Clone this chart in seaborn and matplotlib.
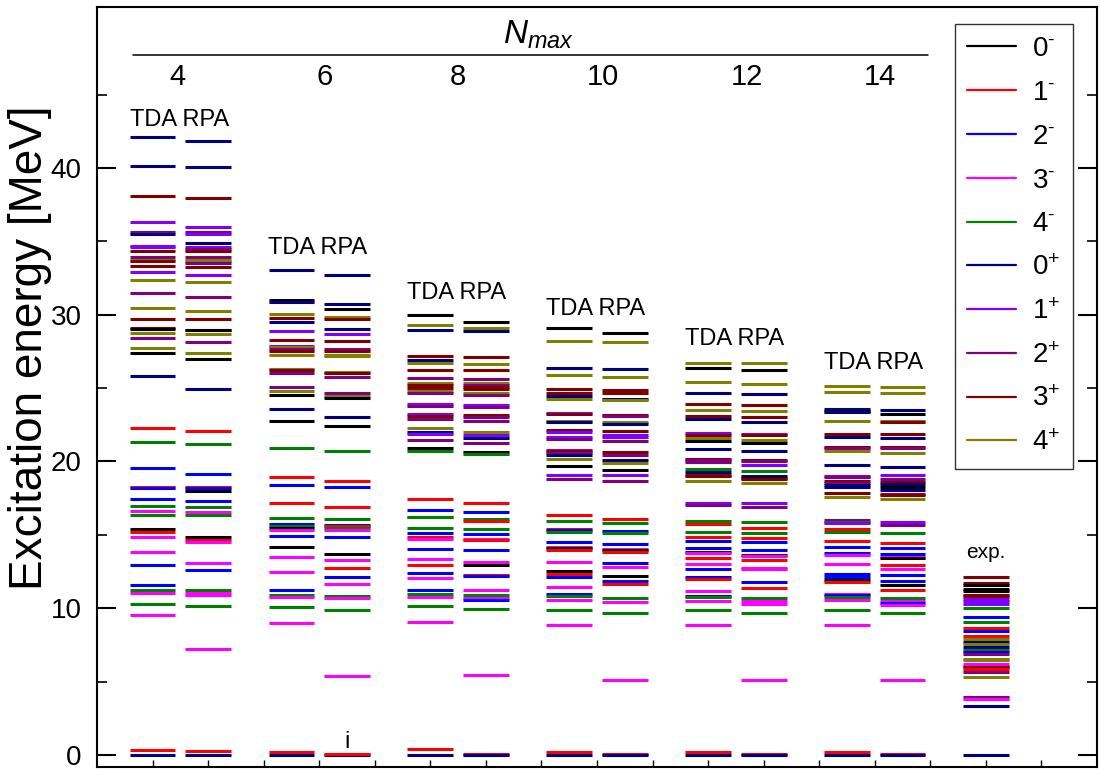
import numpy as np
import pandas as pd
import matplotlib
matplotlib.use("Agg")
import matplotlib.pyplot as plt
from matplotlib.lines import Line2D
import seaborn as sns

# ---------------------------------------------------------------- data
states = ["0-", "1-", "2-", "3-", "4-", "0+", "1+", "2+", "3+", "4+"]
state_colors = ["#000000", "#FF0000", "#0000FF", "#FF00FF", "#008000",
                "#000080", "#8000FF", "#800080", "#800000", "#808000"]

nmax_values = [4, 6, 8, 10, 12, 14]

tda4_E = [42.1, 40.15, 38.1, 36.33, 35.61, 35.47, 34.71, 34.6, 34.34, 33.93, 33.75, 33.65, 33.33,
          32.92, 32.34, 31.48, 30.46, 29.74, 29.1, 29.0, 28.73, 28.44, 27.72, 27.4, 25.84, 22.31,
          21.36, 19.56, 18.26, 18.18, 17.45, 16.99, 16.62, 16.36, 15.43, 15.2, 14.85, 13.81, 12.95,
          11.61, 11.21, 11.04, 10.31, 9.53, 0.37, 0.0]
tda4_J = ["0+", "0+", "3+", "1+", "2+", "0+", "1+", "1+", "3+", "2+", "4+", "3+", "3+",
          "1+", "4+", "2+", "4+", "3+", "3+", "0-", "4+", "2+", "4+", "0-", "0+", "1-",
          "4-", "2-", "1-", "2-", "2-", "4-", "3-", "4-", "0-", "1-", "3-", "3-", "2-",
          "2-", "4-", "3-", "4-", "3-", "1-", "0+"]

rpa4_E = [41.83, 40.09, 37.95, 35.99, 35.67, 35.5, 34.89, 34.63, 34.45, 34.31, 33.9, 33.76, 33.64,
          33.5, 33.27, 32.69, 32.23, 31.19, 30.26, 29.68, 28.99, 28.93, 28.7, 28.15, 27.37, 26.97,
          24.97, 22.05, 21.21, 19.16, 18.26, 18.18, 18.0, 17.31, 16.91, 16.56, 16.33, 14.85, 14.65,
          14.51, 13.06, 12.63, 11.21, 11.04, 10.92, 10.17, 7.19, 0.28, 0.0]
rpa4_J = ["0+", "0+", "3+", "1+", "2+", "1+", "0+", "1+", "2+", "3+", "2+", "4+", "4+",
          "2+", "3+", "1+", "4+", "2+", "4+", "3+", "3+", "0-", "4+", "2+", "4+", "0-",
          "0+", "1-", "4-", "2-", "1-", "2-", "0-", "2-", "4-", "3-", "4-", "0-", "1-",
          "3-", "3-", "2-", "4-", "3-", "3-", "4-", "3-", "1-", "0+"]

tda6_E = [33.02, 30.98, 30.84, 30.04, 29.78, 29.52, 28.9, 28.31, 27.85, 27.79, 27.67, 27.53, 27.24,
          26.3, 26.2, 26.01, 25.06, 24.83, 24.5, 23.57, 22.77, 20.9, 18.91, 18.39, 17.2, 16.18,
          15.71, 15.59, 15.45, 15.31, 14.95, 14.17, 13.46, 12.44, 11.26, 10.93, 10.79, 10.07, 8.96,
          0.2, 0.0]
tda6_J = ["0+", "0-", "0+", "4+", "3+", "0+", "1+", "3+", "1+", "4+", "2+", "3+", "4+",
          "4+", "3+", "2+", "2+", "4+", "0-", "0+", "0-", "4-", "1-", "2-", "1-", "4-",
          "2-", "4-", "0-", "3-", "2-", "0-", "3-", "3-", "2-", "4-", "3-", "4-", "3-",
          "1-", "0+"]

rpa6_E = [32.71, 30.7, 30.42, 29.87, 29.73, 29.04, 28.69, 28.24, 27.67, 27.5, 27.25, 27.17, 26.13,
          26.01, 25.75, 24.66, 24.47, 24.31, 23.0, 22.39, 20.68, 18.69, 18.24, 16.87, 16.11, 15.66,
          15.57, 15.47, 15.31, 14.83, 13.7, 13.27, 12.73, 12.13, 11.66, 10.86, 10.67, 9.91, 5.36,
          0.0, 0.04]
rpa6_J = ["0+", "0+", "0-", "4+", "3+", "0+", "1+", "3+", "2+", "3+", "4+", "4+", "4+",
          "3+", "2+", "2+", "4+", "0-", "0+", "0-", "4-", "1-", "2-", "1-", "4-", "2-",
          "1-", "4-", "3-", "2-", "0-", "3-", "1-", "2-", "3-", "4-", "3-", "4-", "3-",
          "0+", "1-"]

tda8_E = [29.95, 29.27, 28.93, 27.18, 26.89, 26.73, 26.25, 25.68, 25.36, 25.23, 25.0, 24.8, 24.68,
          23.89, 23.78, 23.21, 23.1, 22.91, 22.3, 22.0, 21.87, 21.46, 20.92, 20.73, 17.42, 16.67,
          16.25, 16.2, 15.47, 15.15, 14.86, 14.74, 14.06, 13.36, 12.93, 12.43, 12.09, 11.23, 11.0,
          10.77, 10.14, 9.07, 0.41, 0.0]
tda8_J = ["0-", "4+", "0+", "3+", "0+", "4+", "3+", "2+", "4+", "3+", "3+", "4+", "2+",
          "1+", "2+", "1+", "3+", "2+", "4+", "0+", "1+", "2+", "0-", "4-", "1-", "2-",
          "1-", "4-", "4-", "2-", "1-", "3-", "2-", "3-", "1-", "2-", "3-", "2-", "4-",
          "3-", "4-", "3-", "1-", "0+"]

rpa8_E = [29.49, 29.11, 28.86, 27.13, 26.63, 26.2, 25.64, 25.32, 25.2, 25.09, 24.91, 24.68, 24.55,
          23.87, 23.71, 23.14, 23.03, 22.75, 22.03, 21.82, 21.6, 21.28, 20.64, 20.48, 17.2, 16.56,
          16.08, 15.97, 15.42, 15.08, 14.72, 14.63, 13.99, 13.13, 12.95, 12.27, 12.18, 11.23, 10.93,
          10.71, 10.59, 9.93, 5.46, 0.05, 0.0]
rpa8_J = ["0-", "4+", "0+", "3+", "4+", "3+", "2+", "4+", "2+", "3+", "3+", "4+", "2+",
          "1+", "2+", "3+", "2+", "2+", "4+", "1+", "0+", "2+", "0-", "4-", "1-", "2-",
          "4-", "1-", "4-", "2-", "3-", "1-", "2-", "3-", "0-", "1-", "2-", "3-", "4-",
          "3-", "2-", "4-", "3-", "1-", "0+"]

tda10_E = [29.08, 28.24, 26.38, 25.88, 24.93, 24.7, 24.43, 24.27, 23.3, 23.25, 22.75, 22.68, 22.16,
           22.04, 21.66, 21.54, 20.75, 20.68, 20.58, 20.45, 20.14, 19.68, 19.11, 18.82, 16.34, 15.93,
           15.41, 15.32, 15.21, 14.48, 14.16, 14.07, 13.94, 13.14, 12.57, 12.3, 12.16, 11.48, 10.96,
           10.8, 10.55, 9.89, 8.87, 0.2, 0.0]
tda10_J = ["0-", "4+", "0+", "4+", "3+", "3+", "0+", "4+", "1+", "3+", "4+", "0+", "3+",
           "1+", "1+", "2+", "1+", "3+", "2+", "0+", "4+", "0-", "1+", "2+", "1-", "4-",
           "1-", "2-", "4-", "2-", "3-", "0-", "1-", "3-", "0-", "1-", "2-", "3-", "2-",
           "4-", "3-", "4-", "3-", "1-", "0+"]

rpa10_E = [28.77, 28.13, 26.29, 25.77, 24.88, 24.66, 24.25, 24.18, 23.2, 23.13, 22.66, 22.57, 22.07,
           21.82, 21.65, 21.38, 20.64, 20.45, 20.07, 19.91, 19.45, 19.09, 18.66, 16.07, 15.84, 15.28,
           15.14, 14.39, 14.03, 13.94, 13.8, 13.1, 12.8, 12.19, 11.87, 11.64, 10.69, 10.39, 9.69,
           5.12, 0.05, 0.0]
rpa10_J = ["0-", "4+", "0+", "4+", "3+", "3+", "0+", "4+", "3+", "2+", "4+", "0+", "3+",
           "1+", "1+", "2+", "3+", "2+", "0+", "4+", "0-", "1+", "2+", "1-", "4-", "2-",
           "4-", "2-", "3-", "0-", "1-", "2-", "3-", "0-", "2-", "1-", "4-", "3-", "4-",
           "3-", "1-", "0+"]

tda12_E = [26.72, 26.4, 25.4, 24.69, 23.9, 23.54, 23.1, 22.88, 21.95, 21.83, 21.58, 21.4, 20.88,
           20.2, 20.1, 19.95, 19.47, 19.27, 19.11, 18.99, 18.68, 17.2, 17.02, 15.97, 15.72, 15.22,
           14.88, 14.57, 14.07, 13.84, 13.75, 13.39, 13.0, 12.66, 12.16, 12.0, 11.16, 10.84, 10.75,
           10.52, 9.89, 8.87, 0.19, 0.0]
tda12_J = ["4+", "0-", "4+", "0+", "3+", "4+", "3+", "0+", "1+", "3+", "4+", "0-", "0+",
           "3+", "2+", "2+", "4-", "0+", "3+", "3+", "4+", "1+", "2+", "4-", "1-", "4-",
           "1-", "2-", "2-", "0-", "3-", "1-", "3-", "2-", "2-", "1-", "3-", "2-", "4-",
           "3-", "4-", "3-", "1-", "0+"]

rpa12_E = [26.72, 26.24, 25.31, 24.6, 23.88, 23.47, 23.06, 22.72, 21.88, 21.79, 21.45, 21.24, 20.72,
           20.13, 20.0, 19.79, 19.34, 19.04, 18.86, 18.79, 18.52, 17.15, 16.88, 15.86, 15.45, 15.13,
           14.77, 14.52, 14.0, 13.66, 13.57, 13.27, 12.73, 12.65, 11.82, 11.39, 10.68, 10.46, 10.3,
           9.68, 5.1, 0.05, 0.0]
rpa12_J = ["4+", "0-", "4+", "0+", "3+", "4+", "3+", "0+", "1+", "3+", "4+", "0-", "0+",
           "3+", "2+", "1+", "4-", "0+", "0-", "3+", "4+", "1+", "2+", "4-", "1-", "4-",
           "1-", "2-", "2-", "0-", "3-", "1-", "3-", "3-", "2-", "1-", "4-", "3-", "3-",
           "4-", "3-", "1-", "0+"]

tda14_E = [25.12, 24.71, 23.6, 23.47, 23.38, 22.79, 21.9, 21.7, 21.02, 20.93, 20.68, 19.75, 19.04,
           18.93, 18.66, 18.55, 18.41, 18.25, 17.86, 17.57, 15.98, 15.85, 15.78, 15.37, 15.19, 14.55,
           14.17, 13.76, 13.65, 13.01, 12.35, 12.13, 11.95, 11.81, 10.99, 10.88, 10.77, 10.54, 9.86,
           8.88, 0.22, 0.0]
tda14_J = ["4+", "4+", "0+", "0-", "0+", "4+", "3+", "0+", "3+", "2+", "4+", "0+", "1+",
           "2+", "3+", "2+", "0+", "0+", "3+", "4+", "2+", "4-", "1+", "1-", "4-", "1-",
           "2-", "2-", "3-", "3-", "2-", "2-", "0-", "1-", "3-", "2-", "4-", "3-", "4-",
           "3-", "1-", "0+"]

rpa14_E = [25.1, 24.67, 23.51, 23.22, 22.76, 22.72, 21.86, 21.58, 20.97, 20.9, 20.61, 19.59, 19.07,
           18.82, 18.57, 18.48, 18.25, 18.07, 17.8, 17.72, 17.46, 15.89, 15.69, 15.1, 14.46, 14.1,
           13.69, 13.49, 13.4, 12.92, 12.67, 12.26, 11.83, 11.61, 11.22, 10.68, 10.49, 10.34, 10.2,
           9.68, 5.14, 0.05, 0.0]
rpa14_J = ["4+", "4+", "0+", "0-", "4+", "3+", "3+", "0+", "3+", "2+", "4+", "0+", "1+",
           "2+", "3+", "0+", "0-", "0+", "2+", "3+", "4+", "1+", "2+", "4-", "1-", "2-",
           "2-", "3-", "0-", "1-", "3-", "2-", "2-", "0-", "1-", "4-", "3-", "2-", "3-",
           "4-", "3-", "1-", "0+"]

exp_E = [12.1, 11.7, 11.58, 11.31, 11.17, 10.93, 10.81, 10.63, 10.49, 10.31, 10.04, 9.41, 9.07,
         8.66, 8.43, 8.11, 7.93, 7.7, 7.57, 7.36, 7.14, 7.0, 6.87, 6.55, 6.46, 6.23, 6.09, 6.0,
         5.89, 5.64, 5.28, 3.92, 3.78, 3.35, 0.0]
exp_J = ["3+", "3+", "0-", "0-", "0-", "3+", "3+", "1+", "1+", "1+", "4-", "2-", "4-",
         "1-", "2-", "1-", "4+", "0+", "4+", "0+", "4-", "2-", "2+", "4+", "4+", "3-", "3-", "3+",
         "1-", "2+", "4+", "2+", "3-", "0+", "0+"]

spectra = [(tda4_E, tda4_J), (rpa4_E, rpa4_J), (tda6_E, tda6_J), (rpa6_E, rpa6_J),
           (tda8_E, tda8_J), (rpa8_E, rpa8_J), (tda10_E, tda10_J), (rpa10_E, rpa10_J),
           (tda12_E, tda12_J), (rpa12_E, rpa12_J), (tda14_E, tda14_J), (rpa14_E, rpa14_J),
           (exp_E, exp_J)]

# column centres on the x axis: TDA/RPA pairs per N_max, then experiment
col_centers = [1, 2, 3.5, 4.5, 6, 7, 8.5, 9.5, 11, 12, 13.5, 14.5, 16]

rows = []
for xc, (energies, spins) in zip(col_centers, spectra):
    for e, j in zip(energies, spins):
        rows.append({"x": xc, "E": e, "J": j})
levels = pd.DataFrame(rows)

# ---------------------------------------------------------------- style
sns.set_theme(style="ticks")
plt.rcParams["font.family"] = ["Liberation Sans", "DejaVu Sans"]
plt.rcParams["mathtext.fontset"] = "custom"
plt.rcParams["mathtext.rm"] = "Liberation Sans"
plt.rcParams["mathtext.it"] = "Liberation Sans:italic"
plt.rcParams["axes.linewidth"] = 1.5
for key in ["text.color", "axes.labelcolor", "xtick.color", "ytick.color", "axes.edgecolor"]:
    plt.rcParams[key] = "black"

fig = plt.figure(figsize=(11, 7.69), dpi=100)
ax = fig.add_axes([97 / 1100, 2 / 769, 1000 / 1100, 760 / 769])

palette = dict(zip(states, state_colors))
sns.scatterplot(data=levels, x="x", y="E", hue="J", palette=palette, hue_order=states,
                marker="_", s=1090, linewidth=2.2, legend=False, ax=ax)

ax.set_xlim(0, 18)
ax.set_ylim(-0.82, 50.97)
ax.set_xlabel("")
ax.set_ylabel("")

ax.set_yticks([0, 10, 20, 30, 40])
ax.set_yticks([5, 15, 25, 35, 45], minor=True)
ax.set_xticks(np.arange(1, 18))
ax.set_xticklabels([])
ax.tick_params(axis="y", which="major", direction="in", length=14, width=1.5,
               labelsize=20, pad=11, right=True, left=True)
ax.tick_params(axis="y", which="minor", direction="in", length=7, width=1.2,
               right=True, left=True)
ax.tick_params(axis="x", which="major", direction="in", length=5, width=1.0,
               bottom=True, top=False)
for sp in ax.spines.values():
    sp.set_color("black")
    sp.set_linewidth(1.5)

# ---------------------------------------------------------------- header
ax.text(7.94, 48.5, r"$\mathit{N}_{\mathit{max}}$", fontsize=24, ha="center", va="baseline")
ax.plot([0.65, 14.96], [47.7, 47.7], color="black", lw=1.1)
nmax_label_x = [1.45, 4.1, 6.5, 9.1, 11.7, 14.1]
for xv, n in zip(nmax_label_x, nmax_values):
    ax.text(xv, 45.66, str(n), fontsize=21, ha="center", va="baseline")

tda_text_y = [42.84, 34.14, 31.05, 29.98, 27.94, 26.3]
for k, ty in enumerate(tda_text_y):
    ax.text(col_centers[2 * k] - 0.415, ty, "TDA RPA", fontsize=17, ha="left", va="baseline")

ax.text(col_centers[3], 0.45, "i", fontsize=17, ha="center", va="baseline")
ax.text(col_centers[12], 13.4, "exp.", fontsize=15, ha="center", va="baseline")

fig.text(30 / 1100, 1 - 348 / 769, "Excitation energy [MeV]", fontsize=33,
         rotation=90, ha="center", va="center")

# ---------------------------------------------------------------- legend
handles = [Line2D([0], [0], color=c, lw=1.6) for c in state_colors]
labels = [r"$\mathregular{%s^{\text{%s}}}$" % (s[0], s[1]) for s in states]
leg = ax.legend(handles, labels, loc="upper right", bbox_to_anchor=(0.976, 0.978),
                borderaxespad=0, fontsize=20, frameon=True, fancybox=False,
                handlelength=1.75, handletextpad=0.6, labelspacing=0.64,
                borderpad=0.45)
leg.get_frame().set_edgecolor("black")
leg.get_frame().set_linewidth(1.0)

fig.savefig("out.png", dpi=100)
